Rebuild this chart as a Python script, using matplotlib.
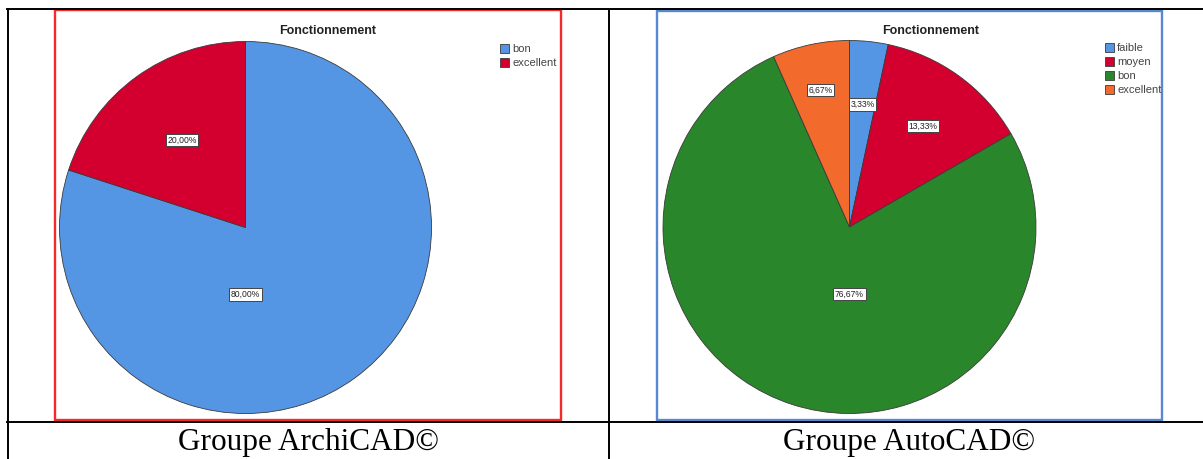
import matplotlib
matplotlib.use("Agg")
import matplotlib.pyplot as plt
from matplotlib.lines import Line2D
from matplotlib.patches import Rectangle
import numpy as np

# ---- data ----
chart_title = "Fonctionnement"

archicad_labels = ["bon", "excellent"]
archicad_values = [80.00, 20.00]

autocad_labels = ["faible", "moyen", "bon", "excellent"]
autocad_values = [3.33, 13.33, 76.67, 6.67]

captions = ["Groupe ArchiCAD©", "Groupe AutoCAD©"]

# ---- styles ----
W, H = 1203, 459
archicad_colors = ["#5596e4", "#d3002f"]
autocad_colors = ["#5596e4", "#d3002f", "#2a862a", "#f26b2c"]
archicad_label_r = [0.36, 0.58]
autocad_label_r = [0.66, 0.67, 0.36, 0.75]

plt.rcParams["font.family"] = ["Liberation Sans", "DejaVu Sans"]

fig = plt.figure(figsize=(W / 100, H / 100), dpi=100)
fig.patch.set_facecolor("white")


def fx(x):
    return x / W


def fy(y):
    return 1 - y / H


def fig_line(xs, ys, **kw):
    fig.add_artist(Line2D([fx(v) for v in xs], [fy(v) for v in ys],
                          transform=fig.transFigure, **kw))


def fig_box(x0, y0, x1, y1, color, lw):
    fig.add_artist(Rectangle((fx(x0), fy(y1)), fx(x1) - fx(x0), fy(y0) - fy(y1),
                             transform=fig.transFigure, fill=False,
                             edgecolor=color, linewidth=lw))


def fmt(v):
    return f"{v:.2f}".replace(".", ",") + "%"


def draw_pie(cx, cy, r, values, labels, cols, label_r, title_x, legend_xy):
    ax = fig.add_axes([fx(cx - r), fy(cy + r), (2 * r) / W, (2 * r) / H])
    wedges, _ = ax.pie(values, colors=cols, startangle=90, counterclock=False,
                       radius=1.0,
                       wedgeprops=dict(edgecolor="#3a3a3a", linewidth=0.6))
    ax.set_xlim(-1.0, 1.0)
    ax.set_ylim(-1.0, 1.0)
    ax.axis("off")
    total = sum(values)
    for w, v, lr in zip(wedges, values, label_r):
        if v / total > 0.5:
            ang = np.deg2rad(270)
        else:
            ang = np.deg2rad((w.theta1 + w.theta2) / 2)
        ax.text(lr * np.cos(ang), lr * np.sin(ang), fmt(v), ha="center", va="center",
                fontsize=6.2, color="#222222",
                bbox=dict(boxstyle="square,pad=0.2", facecolor="white",
                          edgecolor="#444444", linewidth=0.7))
    fig.text(fx(title_x), fy(31), chart_title, ha="center", va="center",
             fontsize=9, fontweight="bold", color="#222222")
    leg = fig.legend(wedges, labels, loc="upper left",
                     bbox_to_anchor=(fx(legend_xy[0]), fy(legend_xy[1])),
                     frameon=False, fontsize=8, handlelength=0.85, handleheight=0.9,
                     handletextpad=0.25, labelspacing=0.32, borderpad=0,
                     borderaxespad=0)
    for t in leg.get_texts():
        t.set_color("#444444")
    return ax


# table frame
lw_tab = 1.4
fig_line([7, W], [9, 9], color="black", linewidth=lw_tab)
fig_line([7.5, 7.5], [9, H], color="black", linewidth=lw_tab)
fig_line([609, 609], [9, H], color="black", linewidth=lw_tab)
fig_line([7, W], [421.7, 421.7], color="black", linewidth=lw_tab)

# coloured chart frames
fig_box(55, 10, 561, 420, "#f42a2a", 1.7)
fig_box(657, 11, 1162, 420, "#5a88d0", 1.7)

draw_pie(245.5, 227.5, 186, archicad_values, archicad_labels, archicad_colors,
         archicad_label_r, 328, (500, 44))
draw_pie(849.5, 227.0, 186.5, autocad_values, autocad_labels, autocad_colors,
         autocad_label_r, 931, (1105, 43))

# captions
for text, x in zip(captions, [308, 909]):
    fig.text(fx(x), fy(450), text, ha="center", va="baseline",
             fontsize=22.5, family=["Liberation Serif", "DejaVu Serif"], color="black")

fig.savefig("out.png", dpi=100, facecolor="white")
